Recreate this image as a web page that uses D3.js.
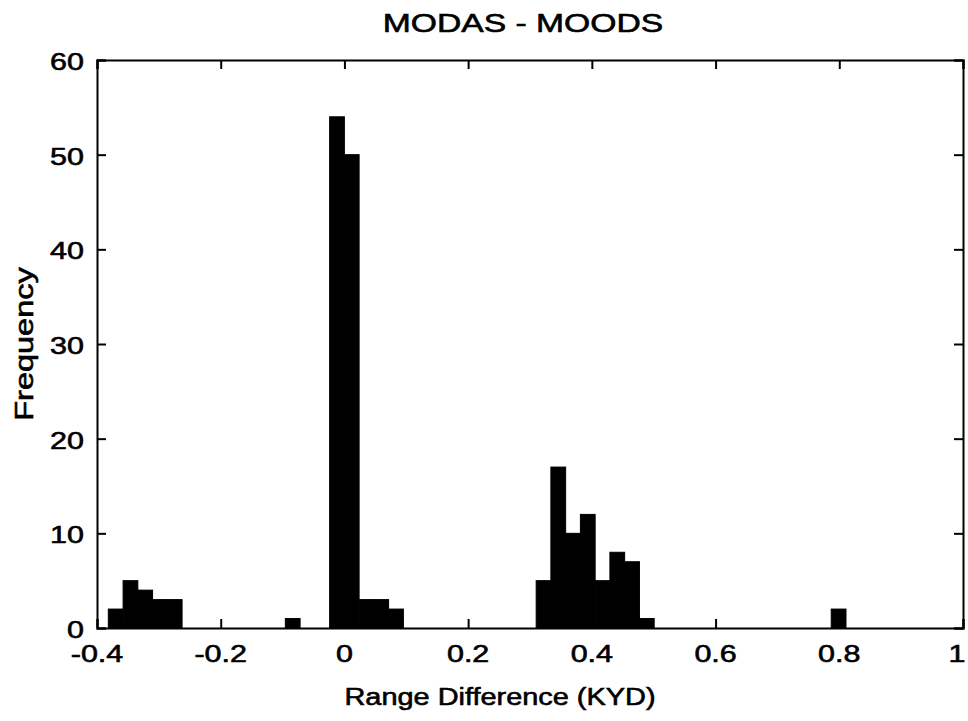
<!DOCTYPE html>
<html>
<head>
<meta charset="utf-8">
<script src="https://cdn.jsdelivr.net/npm/d3@7"></script>
<style>
  html, body { margin: 0; padding: 0; background: #fff; }
  svg text { font-family: "Liberation Sans", Arial, sans-serif; fill: #000; stroke: #000; stroke-width: 0.6px; }
</style>
</head>
<body>
<svg id="chart" width="968" height="721"></svg>
<script>
// ---- data ----
const binCenters = [
  -0.3698, -0.3459, -0.3221, -0.2982, -0.2744, -0.2505, -0.2267, -0.2028, -0.1790, -0.1551,
  -0.1313, -0.1074, -0.0836, -0.0597, -0.0359, -0.0120,  0.0118,  0.0357,  0.0595,  0.0834,
   0.1072,  0.1311,  0.1549,  0.1788,  0.2026,  0.2265,  0.2503,  0.2742,  0.2980,  0.3219,
   0.3457,  0.3696,  0.3934,  0.4173,  0.4411,  0.4650,  0.4888,  0.5127,  0.5365,  0.5604,
   0.5842,  0.6081,  0.6319,  0.6558,  0.6796,  0.7035,  0.7273,  0.7512,  0.7750,  0.7989
];
const counts = [
  2, 5, 4, 3, 3, 0, 0, 0, 0, 0,
  0, 0, 1, 0, 0, 54, 50, 3, 3, 2,
  0, 0, 0, 0, 0, 0, 0, 0, 0, 5,
  17, 10, 12, 5, 8, 7, 1, 0, 0, 0,
  0, 0, 0, 0, 0, 0, 0, 0, 0, 2
];
const binWidth = 0.02385;
const xTicks = [-0.4, -0.2, 0, 0.2, 0.4, 0.6, 0.8, 1];
const xTickLabels = ["-0.4", "-0.2", "0", "0.2", "0.4", "0.6", "0.8", "1"];
const yTicks = [0, 10, 20, 30, 40, 50, 60];
const yTickLabels = ["0", "10", "20", "30", "40", "50", "60"];
const chartTitle = "MODAS - MOODS";
const xTitle = "Range Difference (KYD)";
const yTitle = "Frequency";

// ---- layout ----
const L = 97, R = 963, T = 60, B = 628;
const svg = d3.select("#chart");

const x = d3.scaleLinear().domain([-0.4, 1]).range([L, R]);
const y = d3.scaleLinear().domain([0, 60]).range([B, T]);

// bars
svg.append("g").selectAll("rect")
  .data(binCenters.map((c, i) => ({ c, n: counts[i] })))
  .join("rect")
  .attr("x", d => x(d.c - binWidth / 2))
  .attr("width", d => x(d.c + binWidth / 2) - x(d.c - binWidth / 2))
  .attr("y", d => y(d.n))
  .attr("height", d => y(0) - y(d.n))
  .attr("fill", "#000")
  .attr("stroke", "#000")
  .attr("stroke-width", 1);

// axes with inward ticks
const tickLen = 9;
const axB = svg.append("g").attr("transform", `translate(0,${B})`)
  .call(d3.axisBottom(x).tickValues(xTicks).tickSize(-tickLen).tickFormat(""));
const axT = svg.append("g").attr("transform", `translate(0,${T})`)
  .call(d3.axisTop(x).tickValues(xTicks).tickSize(-tickLen).tickFormat(""));
const axL = svg.append("g").attr("transform", `translate(${L},0)`)
  .call(d3.axisLeft(y).tickValues(yTicks).tickSize(-tickLen).tickFormat(""));
const axR = svg.append("g").attr("transform", `translate(${R},0)`)
  .call(d3.axisRight(y).tickValues(yTicks).tickSize(-tickLen).tickFormat(""));
[axB, axT, axL, axR].forEach(g => {
  g.selectAll("path.domain").attr("stroke", "#000").attr("stroke-width", 2);
  g.selectAll(".tick line").attr("stroke", "#000").attr("stroke-width", 2);
});

// stretched text helper (glyphs in the reference are wide)
function stretchedText(px, py, str, size, anchor, sx, rot) {
  return svg.append("text")
    .attr("transform", `translate(${px},${py})` + (rot ? ` rotate(${rot})` : "") + ` scale(${sx},1)`)
    .attr("text-anchor", anchor)
    .attr("font-size", size)
    .text(str);
}
xTicks.forEach((v, i) => {
  const px = Math.min(x(v), 957);
  stretchedText(px, 662, xTickLabels[i], 24, "middle", 1.27);
});
yTicks.forEach((v, i) => stretchedText(84, y(v) + 10, yTickLabels[i], 24, "end", 1.27));

// titles
stretchedText(523, 32, chartTitle, 25.5, "middle", 1.32);
stretchedText(500, 705, xTitle, 24.5, "middle", 1.18);
stretchedText(33, (T + B) / 2, yTitle, 25, "middle", 1.3, -90);
</script>
</body>
</html>
